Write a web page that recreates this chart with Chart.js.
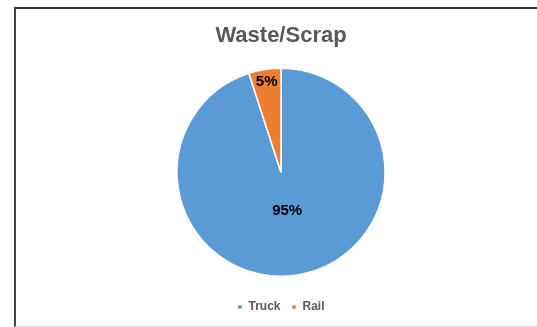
<!DOCTYPE html>
<html>
<head>
<meta charset="utf-8">
<script src="https://cdn.jsdelivr.net/npm/chart.js@4"></script>
<style>
  html, body { margin: 0; padding: 0; background: #fff; }
  #wrap { position: relative; width: 537px; height: 327px; overflow: hidden; }
  #frame {
    position: absolute; left: 14px; top: 7px; width: 540px; height: 317px;
    border-left: 2px solid #444; border-top: 2px solid #333; border-bottom: 1px solid #ddd;
  }
  canvas { position: absolute; left: 0; top: 0; }
</style>
</head>
<body>
<div id="wrap">
  <div id="frame"></div>
  <canvas id="chart" width="537" height="327"></canvas>
</div>
<script>
const categories = ["Truck", "Rail"];
const shares = [95, 5];
const sliceColors = ["#5B9BD5", "#ED7D31"];

// draws the percent labels inside each slice
const sliceLabels = {
  id: "sliceLabels",
  afterDatasetsDraw(chart) {
    const { ctx } = chart;
    const meta = chart.getDatasetMeta(0);
    const radiusFrac = [0.38, 0.88];
    ctx.save();
    ctx.font = "bold 15px 'Liberation Sans', Arial, sans-serif";
    ctx.fillStyle = "#000";
    ctx.textAlign = "center";
    ctx.textBaseline = "middle";
    meta.data.forEach((arc, i) => {
      const p = arc.getProps(["x", "y", "startAngle", "endAngle", "outerRadius"]);
      const mid = (p.startAngle + p.endAngle) / 2;
      const r = p.outerRadius * radiusFrac[i];
      ctx.fillText(shares[i] + "%", p.x + Math.cos(mid) * r, p.y + Math.sin(mid) * r);
    });
    ctx.restore();
  }
};

new Chart(document.getElementById("chart").getContext("2d"), {
  type: "pie",
  data: {
    labels: categories,
    datasets: [{
      data: shares,
      backgroundColor: sliceColors,
      borderColor: "#fff",
      borderWidth: 1.5,
    }],
  },
  options: {
    responsive: false,
    animation: false,
    layout: { padding: { left: 25, right: 0, top: 0, bottom: 4 } },
    plugins: {
      title: {
        display: true,
        text: "Waste/Scrap",
        color: "#595959",
        font: { family: "'Liberation Sans', Arial, sans-serif", size: 22, weight: "bold", lineHeight: 1.2 },
        padding: { top: 23, bottom: 18 },
      },
      legend: {
        position: "bottom",
        title: { display: true, text: "", font: { size: 1, lineHeight: 1 }, padding: { top: 12, bottom: 0 } },
        labels: {
          color: "#595959",
          font: { family: "'Liberation Sans', Arial, sans-serif", size: 12, weight: "bold" },
          boxWidth: 5,
          boxHeight: 5,
          padding: 11,
        },
      },
      tooltip: { enabled: false },
    },
  },
  plugins: [sliceLabels],
});
</script>
</body>
</html>
